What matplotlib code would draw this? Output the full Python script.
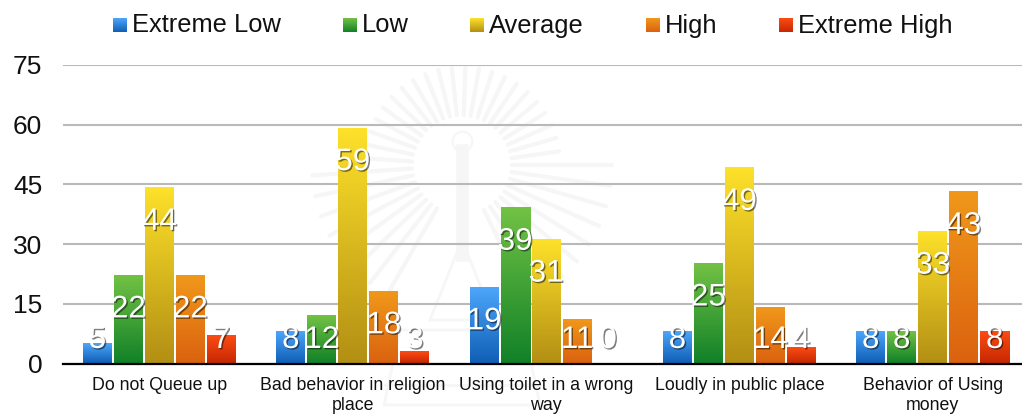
import numpy as np
import matplotlib
matplotlib.use('Agg')
import matplotlib.pyplot as plt
import matplotlib.patheffects as pe
from matplotlib.colors import LinearSegmentedColormap

plt.rcParams['font.family'] = ['Liberation Sans', 'DejaVu Sans']

# Data
categories = ['Do not Queue up', 'Bad behavior in religion\nplace', 'Using toilet in a wrong\nway',
              'Loudly in public place', 'Behavior of Using\nmoney']
series_names = ['Extreme Low', 'Low', 'Average', 'High', 'Extreme High']
extreme_low = [5, 8, 19, 8, 8]
low = [22, 12, 39, 25, 8]
average = [44, 59, 31, 49, 33]
high = [22, 18, 11, 14, 43]
extreme_high = [7, 3, 0, 4, 8]
y_ticks = [0, 15, 30, 45, 60, 75]

all_series = [extreme_low, low, average, high, extreme_high]
top_colors = ['#4da6fb', '#72c244', '#fde12a', '#f0981b', '#fc4c14']
bottom_colors = ['#0f5fb5', '#118128', '#b38f14', '#db620f', '#c62802']
swatch_x = [113, 343, 470, 646, 779]

W, H = 1022, 416
fig = plt.figure(figsize=(W / 100, H / 100), dpi=100)

# Background layer in pixel coordinates (watermark and legend)
bg = fig.add_axes([0, 0, 1, 1], zorder=0)
bg.set_xlim(0, W)
bg.set_ylim(H, 0)
bg.axis('off')

# Faint crest behind the chart
wm = '#f6f6f6'
cx, cy = 462, 165
for a in np.arange(0, 360, 8):
    r = np.deg2rad(a)
    if 65 < a < 115:  # the tower covers the bottom
        continue
    outer = 98 if np.sin(r) < 0 else 150
    bg.plot([cx + 50 * np.cos(r), cx + outer * np.cos(r)],
            [cy + 50 * np.sin(r), cy + outer * np.sin(r)], color=wm, lw=3, solid_capstyle='round')
bg.plot([462, 462], [150, 255], color=wm, lw=9)
bg.plot([430, 462, 494, 430], [320, 240, 320, 320], color=wm, lw=2)
bg.plot([400, 524, 540, 384, 400], [330, 330, 405, 405, 330], color=wm, lw=2)
bg.plot([385, 540], [385, 385], color=wm, lw=2)
bg.scatter([462], [141], s=200, facecolor='white', edgecolor=wm, lw=1.5)


def gradient(c1, c2):
    cmap = LinearSegmentedColormap.from_list('g', [c1, c2])
    return cmap(np.linspace(0, 1, 128))[:, None, :]


# Main chart
left, right, top, bottom = 63, 1022, 65, 363.5
ax = fig.add_axes([left / W, 1 - bottom / H, (right - left) / W, (bottom - top) / H], zorder=1)
ax.patch.set_alpha(0)

group = 193.3
center0 = 159.5
step = 31.0 / group
width = 29.0 / group
px = 75 / (bottom - top)
x = np.arange(len(categories))

for i, vals in enumerate(all_series):
    pos = x + (i - 2) * step
    bars = ax.bar(pos, vals, width, color='none', zorder=3)
    img = gradient(top_colors[i], bottom_colors[i])
    for b, v in zip(bars, vals):
        if v > 0:
            ax.imshow(img, extent=[b.get_x(), b.get_x() + b.get_width(), 0, v],
                      aspect='auto', zorder=3, interpolation='bilinear')
        # label sits near the top of the bar, but stays above the axis line
        t = ax.text(b.get_x() + b.get_width() / 2, max(v - 30 * px, 27 * px), str(v),
                    ha='center', va='center_baseline', color='white', fontsize=22.5, zorder=5)
        t.set_path_effects([pe.SimplePatchShadow(offset=(1, -1), shadow_rgbFace='#000000', alpha=0.5),
                            pe.Normal()])

    # legend entry
    bg.imshow(img, extent=[swatch_x[i], swatch_x[i] + 14, 32, 18], aspect='auto', interpolation='bilinear')
    bg.text(swatch_x[i] + 19, 25.5, series_names[i], fontsize=18.4, color='#111111', ha='left', va='center')

bg.set_xlim(0, W)
bg.set_ylim(H, 0)

ax.set_xlim(-(center0 - left) / group, (right - center0) / group)
ax.set_ylim(0, 75)
ax.set_yticks(y_ticks)
ax.set_xticks(x)
ax.set_xticklabels(categories, fontsize=12.8, color='#111111', linespacing=1.22)
ax.tick_params(axis='x', length=0, pad=10)
ax.tick_params(axis='y', length=0, pad=15, labelsize=19, labelcolor='#111111')
ax.grid(axis='y', color='#b9b9b9', lw=1.5, zorder=1)
ax.set_axisbelow(True)
for s in ['top', 'right', 'left']:
    ax.spines[s].set_visible(False)
ax.spines['bottom'].set_linewidth(1.6)
ax.spines['bottom'].set_color('black')
ax.spines['bottom'].set_zorder(6)

fig.savefig('out.png', dpi=100)
